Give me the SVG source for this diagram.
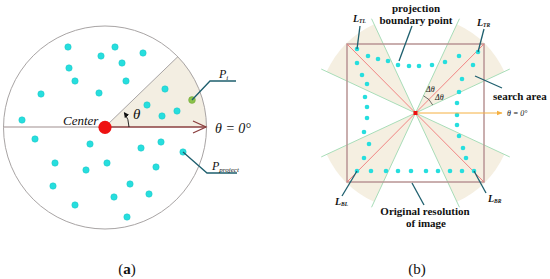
<svg xmlns="http://www.w3.org/2000/svg" width="550" height="279" viewBox="0 0 550 279">
<style>
.dot{fill:#26DEDE;stroke:#1CC4C4;stroke-width:0.5}
.sdot{fill:#26DEDE}
.lead{fill:none;stroke:#1E5F6E;stroke-width:1.3}
.lbl{font-family:"Liberation Serif",serif;font-style:italic;fill:#111}
.bold{font-family:"Liberation Serif",serif;font-weight:bold;fill:#111;font-size:11px}
.wedge{fill:#F5EFE1}
.gl{stroke:#A8DDB8;stroke-width:1;fill:none}
.rl{stroke:#F07878;stroke-width:0.9;fill:none}
.cap{font-family:"Liberation Serif",serif;font-size:15px;fill:#111}
</style>
<defs>
<marker id="tharrow" viewBox="0 0 10 10" refX="8" refY="5" markerWidth="6" markerHeight="6" orient="auto">
<path d="M0,0 L10,5 L0,10 Z" fill="#111"/>
</marker>
<marker id="oarrow" viewBox="0 0 10 10" refX="9" refY="5" markerWidth="6" markerHeight="6" orient="auto">
<path d="M0,1 L10,5 L0,9 Z" fill="#F5B041"/>
</marker>
</defs>

<!-- Panel (a) -->
<g id="panel-a">
<g id="circle-region">
<path d="M105,127 L206.5,127 A101.5,101.5 0 0,0 178,56.5 Z" fill="#F3EEE2"/>
<circle cx="105" cy="127.5" r="101.5" fill="none" stroke="#A8A4A4" stroke-width="1"/>
<line x1="105" y1="127" x2="178" y2="56.5" stroke="#A8A4A4" stroke-width="1"/>
</g>
<g id="points-a">
<circle class="dot" cx="68" cy="47" r="3.2"/>
<circle class="dot" cx="115" cy="47" r="3.2"/>
<circle class="dot" cx="101" cy="56" r="3.2"/>
<circle class="dot" cx="143" cy="53" r="3.2"/>
<circle class="dot" cx="122" cy="63" r="3.2"/>
<circle class="dot" cx="69" cy="68" r="3.2"/>
<circle class="dot" cx="75" cy="81" r="3.2"/>
<circle class="dot" cx="126" cy="81" r="3.2"/>
<circle class="dot" cx="41" cy="94" r="3.2"/>
<circle class="dot" cx="99" cy="93" r="3.2"/>
<circle class="dot" cx="165" cy="89" r="3.2"/>
<circle class="dot" cx="22" cy="120" r="3.2"/>
<circle class="dot" cx="147" cy="105" r="3.2"/>
<circle class="dot" cx="177" cy="111" r="3.2"/>
<circle class="dot" cx="162" cy="116" r="3.2"/>
<circle class="dot" cx="35" cy="139" r="3.2"/>
<circle class="dot" cx="90" cy="144" r="3.2"/>
<circle class="dot" cx="141" cy="148" r="3.2"/>
<circle class="dot" cx="161" cy="142" r="3.2"/>
<circle class="dot" cx="183" cy="152" r="3.2"/>
<circle class="dot" cx="55" cy="163" r="3.2"/>
<circle class="dot" cx="86" cy="170" r="3.2"/>
<circle class="dot" cx="107" cy="163" r="3.2"/>
<circle class="dot" cx="156" cy="167" r="3.2"/>
<circle class="dot" cx="53" cy="186" r="3.2"/>
<circle class="dot" cx="130" cy="184" r="3.2"/>
<circle class="dot" cx="114" cy="197" r="3.2"/>
<circle class="dot" cx="149" cy="194" r="3.2"/>
<circle class="dot" cx="75" cy="205" r="3.2"/>
<circle class="dot" cx="127" cy="217" r="3.2"/>
</g>
<g id="pi-point">
<circle cx="192" cy="100" r="3.4" fill="#8BC34A" stroke="#6FA036" stroke-width="0.5"/>
</g>
<g id="axis-a">
<line x1="3.5" y1="127" x2="99" y2="127" stroke="#A09090" stroke-width="1.2"/>
<line x1="111" y1="127" x2="206" y2="127" stroke="#8B3F3F" stroke-width="1.6"/>
<polyline points="193,121 206,127 193,133" fill="none" stroke="#8B3F3F" stroke-width="1.3"/>
<path d="M129,127 A24,24 0 0,0 124.5,113" fill="none" stroke="#111" stroke-width="0.9" marker-end="url(#tharrow)"/>
</g>
<g id="center-node">
<circle cx="105" cy="127.3" r="6.6" fill="#EE1111"/>
<text class="lbl" x="63" y="125" font-size="13">Center</text>
</g>
<text class="lbl" x="133" y="119" font-size="15">θ</text>
<text class="lbl" x="215" y="133" font-size="14">θ = 0°</text>
<g id="label-pi">
<polyline class="lead" points="192,100 210,81 236,81"/>
<text class="lbl" x="219" y="78" font-size="12">P<tspan font-size="7" dy="2">i</tspan></text>
</g>
<g id="label-pproject">
<polyline class="lead" points="183,152 207,173 237,173"/>
<text class="lbl" x="212" y="170" font-size="12">P<tspan font-size="7" dy="2">project</tspan></text>
</g>
<text class="cap" x="127" y="274" text-anchor="middle">(<tspan font-weight="bold">a</tspan>)</text>
</g>

<!-- Panel (b) -->
<g id="panel-b">
<g id="search-wedges">
<path class="wedge" d="M415.5,113 L504.32,71.58 A98,98 0 0,0 456.92,24.18 Z"/>
<path class="wedge" d="M415.5,113 L374.08,24.18 A98,98 0 0,0 326.68,71.58 Z"/>
<path class="wedge" d="M415.5,113 L326.68,154.42 A98,98 0 0,0 374.08,201.82 Z"/>
<path class="wedge" d="M415.5,113 L456.92,201.82 A98,98 0 0,0 504.32,154.42 Z"/>
</g>
<g id="boundary-lines">
<line class="gl" x1="509.76" y1="69.05" x2="321.24" y2="156.95"/>
<line class="gl" x1="321.24" y1="69.05" x2="509.76" y2="156.95"/>
<line class="gl" x1="459.45" y1="18.74" x2="371.55" y2="207.26"/>
<line class="gl" x1="371.55" y1="18.74" x2="459.45" y2="207.26"/>
</g>
<g id="image-rect">
<rect x="347" y="44" width="137" height="138" fill="none" stroke="#B89494" stroke-width="1.5"/>
</g>
<g id="diagonals">
<line class="rl" x1="347" y1="44" x2="484" y2="182"/>
<line class="rl" x1="484" y1="44" x2="347" y2="182"/>
</g>
<g id="points-b">
<circle class="sdot" cx="357" cy="49" r="2.3"/>
<circle class="sdot" cx="368" cy="56" r="2.3"/>
<circle class="sdot" cx="378" cy="59" r="2.3"/>
<circle class="sdot" cx="388" cy="61" r="2.3"/>
<circle class="sdot" cx="398" cy="65" r="2.3"/>
<circle class="sdot" cx="409" cy="66" r="2.3"/>
<circle class="sdot" cx="419" cy="66" r="2.3"/>
<circle class="sdot" cx="432" cy="65" r="2.3"/>
<circle class="sdot" cx="445" cy="62" r="2.3"/>
<circle class="sdot" cx="459" cy="56" r="2.3"/>
<circle class="sdot" cx="478" cy="52" r="2.3"/>
<circle class="sdot" cx="357" cy="63" r="2.3"/>
<circle class="sdot" cx="362" cy="75" r="2.3"/>
<circle class="sdot" cx="367" cy="84" r="2.3"/>
<circle class="sdot" cx="365" cy="97" r="2.3"/>
<circle class="sdot" cx="367" cy="107" r="2.3"/>
<circle class="sdot" cx="367" cy="118" r="2.3"/>
<circle class="sdot" cx="364" cy="132" r="2.3"/>
<circle class="sdot" cx="369" cy="144" r="2.3"/>
<circle class="sdot" cx="364" cy="158" r="2.3"/>
<circle class="sdot" cx="357" cy="171" r="2.3"/>
<circle class="sdot" cx="371" cy="171" r="2.3"/>
<circle class="sdot" cx="386" cy="171" r="2.3"/>
<circle class="sdot" cx="398" cy="171" r="2.3"/>
<circle class="sdot" cx="411" cy="171" r="2.3"/>
<circle class="sdot" cx="426" cy="171" r="2.3"/>
<circle class="sdot" cx="438" cy="171" r="2.3"/>
<circle class="sdot" cx="450" cy="171" r="2.3"/>
<circle class="sdot" cx="462" cy="171" r="2.3"/>
<circle class="sdot" cx="474" cy="171" r="2.3"/>
<circle class="sdot" cx="473" cy="65" r="2.3"/>
<circle class="sdot" cx="462" cy="79" r="2.3"/>
<circle class="sdot" cx="459" cy="92" r="2.3"/>
<circle class="sdot" cx="457" cy="103" r="2.3"/>
<circle class="sdot" cx="457" cy="115" r="2.3"/>
<circle class="sdot" cx="457" cy="125" r="2.3"/>
<circle class="sdot" cx="459" cy="136" r="2.3"/>
<circle class="sdot" cx="463" cy="148" r="2.3"/>
<circle class="sdot" cx="466" cy="158" r="2.3"/>
</g>
<g id="zero-axis">
<line x1="418" y1="113" x2="502" y2="113" stroke="#F5B041" stroke-width="1" marker-end="url(#oarrow)"/>
<text class="lbl" x="507" y="116" font-size="8">θ = 0°</text>
</g>
<g id="delta-theta">
<path d="M423.5,95.8 A19,19 0 0,1 432.7,105" fill="none" stroke="#333" stroke-width="0.7"/>
<text class="lbl" x="426" y="92" font-size="8">Δθ</text>
<text class="lbl" x="435" y="100" font-size="8">Δθ</text>
</g>
<g id="center-b">
<rect x="413.5" y="111" width="4" height="4" fill="#EE1111"/>
</g>
<g id="label-ltl">
<line class="lead" x1="360" y1="26" x2="357" y2="49"/>
<text class="lbl" x="353" y="22" font-size="10" font-weight="bold">L<tspan font-size="5.5" dy="1">TL</tspan></text>
</g>
<g id="label-proj">
<line class="lead" x1="412" y1="26" x2="399" y2="61"/>
<text class="bold" x="416" y="12" text-anchor="middle">projection</text>
<text class="bold" x="416" y="24" text-anchor="middle">boundary point</text>
</g>
<g id="label-ltr">
<line class="lead" x1="484" y1="29" x2="478" y2="52"/>
<text class="lbl" x="477" y="26" font-size="10" font-weight="bold">L<tspan font-size="5.5" dy="1">TR</tspan></text>
</g>
<g id="label-search">
<line class="lead" x1="475" y1="76" x2="502" y2="88"/>
<text class="bold" x="493" y="100">search area</text>
</g>
<g id="label-lbl">
<line class="lead" x1="357" y1="171" x2="342" y2="196"/>
<text class="lbl" x="335" y="205" font-size="10" font-weight="bold">L<tspan font-size="5.5" dy="1">BL</tspan></text>
</g>
<g id="label-lbr">
<line class="lead" x1="474" y1="171" x2="486" y2="193"/>
<text class="lbl" x="488" y="202" font-size="10" font-weight="bold">L<tspan font-size="5.5" dy="1">BR</tspan></text>
</g>
<g id="label-orig">
<line class="lead" x1="412" y1="183" x2="424" y2="205"/>
<text class="bold" x="425" y="215" text-anchor="middle" font-size="10.5">Original resolution</text>
<text class="bold" x="426" y="227" text-anchor="middle" font-size="10.5">of image</text>
</g>
<text class="cap" x="417" y="274" text-anchor="middle">(b)</text>
</g>
</svg>
